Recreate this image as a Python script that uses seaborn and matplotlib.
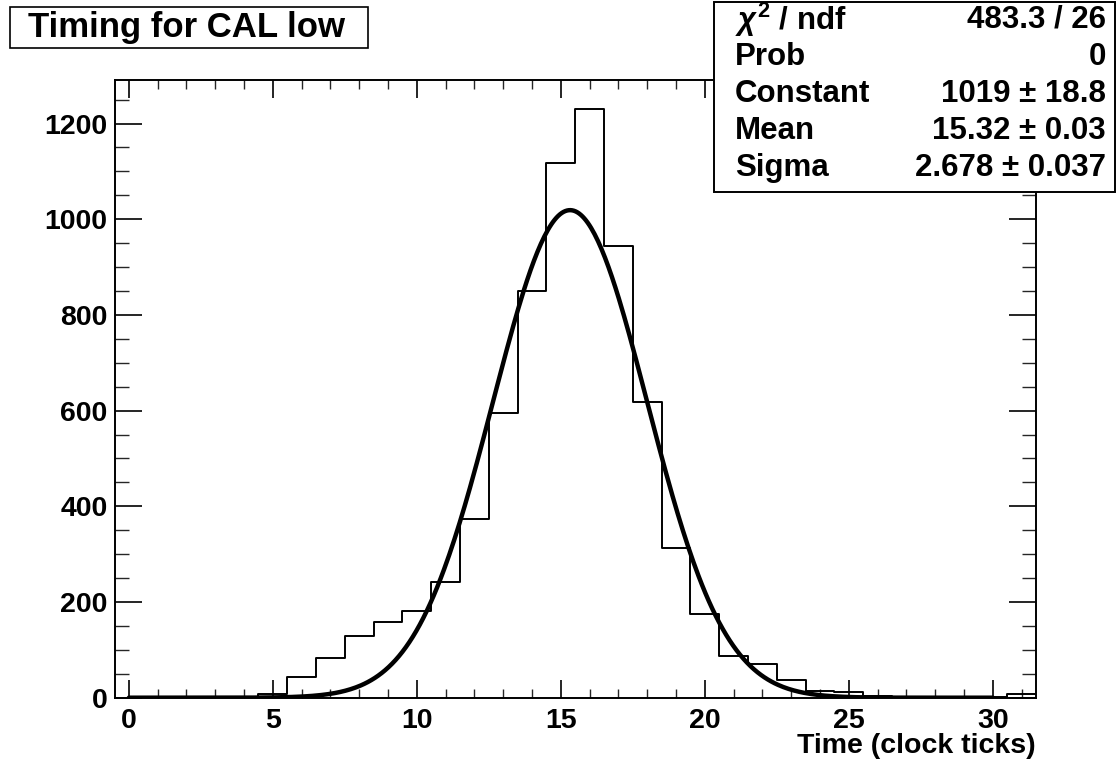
import numpy as np
import pandas as pd
import matplotlib
matplotlib.use("Agg")
import matplotlib.pyplot as plt
import seaborn as sns
from matplotlib.patches import Rectangle
from matplotlib.ticker import MultipleLocator

# ---------------- data ----------------
bin_centers = list(range(32))
counts = [0, 0, 1, 1, 1, 7, 44, 84, 129, 159, 181, 242, 374, 594, 849, 1118,
          1230, 945, 617, 312, 174, 87, 70, 37, 14, 11, 3, 2, 1, 1, 2, 7]
fit_constant = 1019.0
fit_mean = 15.32
fit_sigma = 2.678
fit_range = [0.0, 30.0]
x_ticks = [0, 5, 10, 15, 20, 25, 30]
y_ticks = [0, 200, 400, 600, 800, 1000, 1200]
stats_labels = [r"$\chi^{\mathbf{2}}$ / ndf", "Prob", "Constant", "Mean", "Sigma"]
stats_values = ["483.3 / 26", "0", "1019 ± 18.8", "15.32 ± 0.03", "2.678 ± 0.037"]
title_text = "Timing for CAL low"
xlabel_text = "Time (clock ticks)"

# ---------------- style ----------------
sns.set_theme(style="white")
plt.rcParams["font.family"] = ["Liberation Sans", "DejaVu Sans"]
plt.rcParams["font.weight"] = "bold"
plt.rcParams["mathtext.fontset"] = "custom"
plt.rcParams["mathtext.rm"] = "Liberation Sans:bold"
plt.rcParams["mathtext.it"] = "Liberation Sans:italic"
plt.rcParams["mathtext.bf"] = "Liberation Sans:bold"

W, H = 1116, 763
fig = plt.figure(figsize=(W / 100, H / 100), dpi=100)
fig.patch.set_facecolor("white")

ax_l, ax_r, ax_t, ax_b = 114.5, 1036.0, 80.0, 697.7
ax = fig.add_axes([ax_l / W, 1 - ax_b / H, (ax_r - ax_l) / W, (ax_b - ax_t) / H])

df = pd.DataFrame({"time": bin_centers, "count": counts})
sns.histplot(data=df, x="time", weights="count", discrete=True, element="step",
             fill=False, color="black", linewidth=1.4, ax=ax)

xfit = np.linspace(fit_range[0], fit_range[1], 500)
yfit = fit_constant * np.exp(-0.5 * ((xfit - fit_mean) / fit_sigma) ** 2)
fit_df = pd.DataFrame({"x": xfit, "y": yfit})
sns.lineplot(data=fit_df, x="x", y="y", color="black", linewidth=3.2, ax=ax)

ax.set_xlim(-0.5, 31.5)
ax.set_ylim(0, 1291)
ax.set_xlabel("")
ax.set_ylabel("")
ax.set_xticks(x_ticks)
ax.set_yticks(y_ticks)
ax.xaxis.set_minor_locator(MultipleLocator(1))
ax.yaxis.set_minor_locator(MultipleLocator(50))

ax.tick_params(axis="x", which="major", direction="in", length=13, width=1.2,
               top=True, bottom=True, labelsize=20.5, pad=7.5, colors="black")
ax.tick_params(axis="x", which="minor", direction="in", length=6.5, width=1.0,
               top=True, bottom=True)
ax.tick_params(axis="y", which="major", direction="in", length=19.5, width=1.2,
               left=True, right=True, labelsize=20.5, pad=5, colors="black")
ax.tick_params(axis="y", which="minor", direction="in", length=10, width=1.0,
               left=True, right=True)
for lbl in ax.get_xticklabels() + ax.get_yticklabels():
    lbl.set_fontweight("bold")
for sp in ax.spines.values():
    sp.set_visible(True)
    sp.set_color("black")
    sp.set_linewidth(1.4)

# x axis title (right aligned at axis end)
fig.text(ax_r / W, 1 - 746 / H, xlabel_text, ha="right", va="center",
         fontsize=20.5, fontweight="bold", color="black")

# ---------------- title box ----------------
fig.add_artist(Rectangle((10 / W, 1 - 48 / H), (368 - 10) / W, (48 - 7) / H,
                         transform=fig.transFigure, facecolor="white",
                         edgecolor="black", linewidth=1.2, zorder=10))
fig.text(186 / W, 1 - 28 / H, title_text, ha="center", va="center",
         fontsize=25, fontweight="bold", color="black", zorder=11)

# ---------------- stats box ----------------
bx0, by0, bx1, by1 = 714, 2, 1115, 192
fig.add_artist(Rectangle((bx0 / W, 1 - by1 / H), (bx1 - bx0) / W, (by1 - by0) / H,
                         transform=fig.transFigure, facecolor="white",
                         edgecolor="black", linewidth=1.4, zorder=10))
row_y = [20, 57, 94, 131, 168]
for lab, val, yy in zip(stats_labels, stats_values, row_y):
    fig.text(735 / W, 1 - yy / H, lab, ha="left", va="center", fontsize=22.5,
             fontweight="bold", color="black", zorder=11)
    fig.text(1106 / W, 1 - yy / H, val, ha="right", va="center", fontsize=22.5,
             fontweight="bold", color="black", zorder=11)

fig.savefig("out.png", dpi=100, facecolor="white")
